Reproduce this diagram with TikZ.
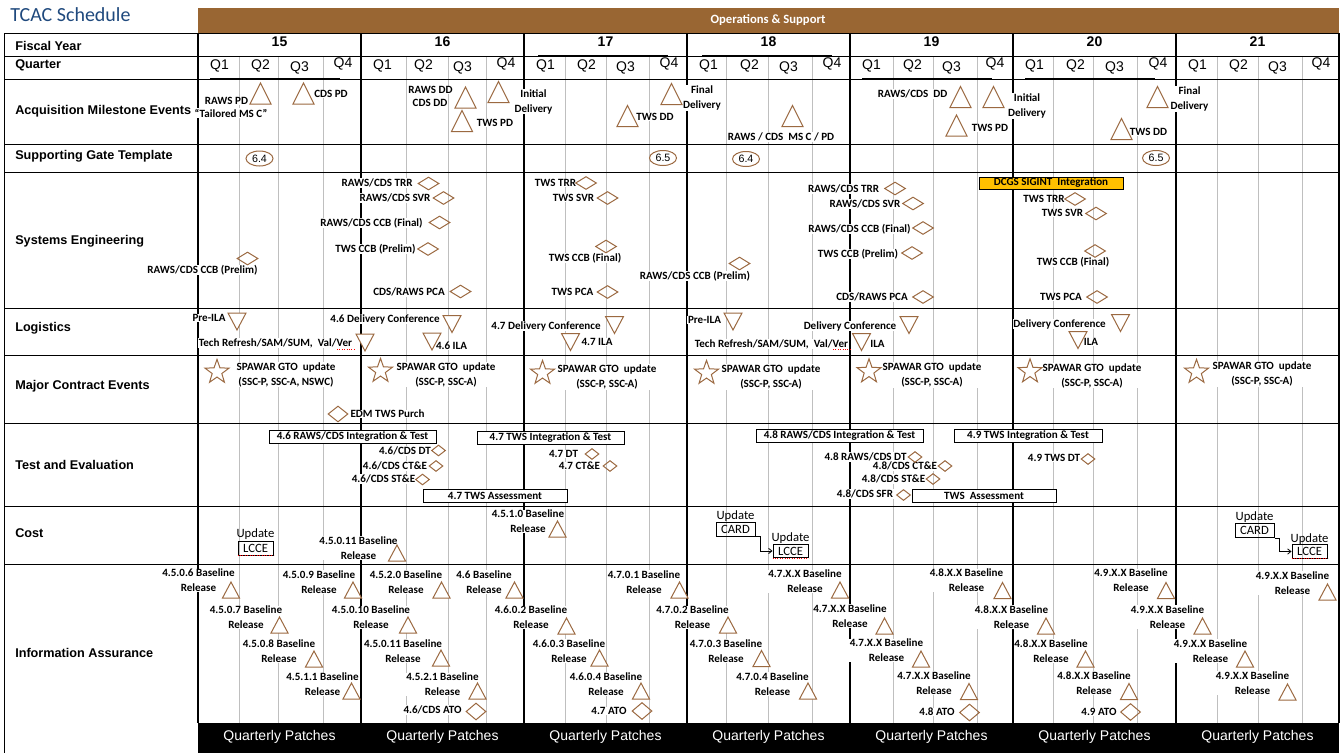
\documentclass[tikz,border=0pt]{standalone}
\usepackage{fontspec}
\setmainfont{Carlito}
\newfontfamily\arialfont{Liberation Sans}
\usepackage{xcolor}
\usetikzlibrary{positioning, arrows.meta, shapes.geometric}

\definecolor{opsbrown}{HTML}{996633}
\definecolor{msbrown}{HTML}{9B6941}
\definecolor{gridgray}{HTML}{BFBFBF}
\definecolor{titleblue}{HTML}{1F497D}
\definecolor{dcgsgold}{HTML}{FFC000}

\tikzset{
  lbl/.style={font=\bfseries\fontsize{8.3}{11.25}\selectfont, fill=white, inner sep=0.4pt, align=center},
  rowlbl/.style={font=\arialfont\bfseries\fontsize{9.5}{11}\selectfont, anchor=west, inner sep=0pt},
  yrlbl/.style={font=\arialfont\bfseries\fontsize{10.5}{12}\selectfont, inner sep=0pt},
  qlbl/.style={font=\arialfont\fontsize{10.5}{12}\selectfont, inner sep=0pt},
  patch/.style={font=\arialfont\fontsize{10.5}{12}\selectfont, text=white, inner sep=0pt},
  msdiam/.style={diamond, draw=msbrown, line width=0.75pt, inner sep=0pt, minimum width=15.75pt, minimum height=9.75pt},
  tediam/.style={msdiam, minimum width=10.5pt, minimum height=8.25pt},
  atodiam/.style={msdiam, minimum width=15pt, minimum height=12.75pt},
  msstar/.style={star, star points=5, star point ratio=2.5, draw=msbrown, line width=0.75pt, inner sep=0pt, minimum size=19pt},
  gate/.style={ellipse, draw=msbrown, line width=0.75pt, inner sep=0pt, minimum width=20.25pt, minimum height=11.25pt, font=\arialfont\fontsize{8}{9}\selectfont},
  tbox/.style={draw, line width=0.75pt, fill=white, inner sep=0pt, minimum height=9.75pt, font=\bfseries\fontsize{8.3}{10}\selectfont},
  costbox/.style={draw, line width=0.75pt, inner sep=0pt, minimum height=10pt, font=\fontsize{9.5}{10}\selectfont},
  upd/.style={font=\fontsize{9.5}{10}\selectfont, inner sep=0pt},
  spell/.style={red, densely dotted, line width=0.8pt},
  pics/acqtri/.style={code={\draw[msbrown, fill=white, line width=0.75pt] (-10.5,10.5) -- (0,-10.5) -- (10.5,10.5) -- cycle;}},
  pics/iatri/.style={code={\draw[msbrown, fill=white, line width=0.75pt] (-8.5,8) -- (0,-8) -- (8.5,8) -- cycle;}},
  pics/logtri/.style={code={\draw[msbrown, fill=white, line width=0.75pt] (-9,-8.5) -- (9,-8.5) -- (0,8.5) -- cycle;}}
}

\begin{document}
\begin{tikzpicture}[x=0.75pt, y=-0.75pt]
  \useasboundingbox (0,0) rectangle (1344,753);
  \fill[opsbrown] (198,8) rectangle (1339,33);
  \node[font=\fontsize{15}{18}\selectfont, text=titleblue, anchor=west, inner sep=0pt] (title) at (10,15) {TCAC Schedule};
  \node[font=\bfseries\fontsize{9.5}{11}\selectfont, text=white] (ops) at (768,20) {Operations \& Support};

  \foreach \x in {239,278,323,406,448,486,565,606,649,726,768,812,893,933,977,1053,1093,1137,1217,1258,1302}
    \draw[gridgray, line width=0.75pt] (\x,56) -- (\x,723);
  \foreach \y in {33,56,79,144,172,308,355,423,506,564}
    \draw[line width=0.75pt] (4,\y) -- (1339,\y);
  \foreach \x in {198,361,524,687,850,1013,1176}
    \draw[line width=2pt] (\x,33) -- (\x,723);
  \draw[line width=0.75pt] (4,33) -- (4,753);
  \draw[line width=1pt] (1339,33) -- (1339,723);
  \foreach \a/\b/\y in {210/340/79, 538/668/56, 702/832/56, 862/992/79, 1025/1155/79}
    \draw[line width=1.6pt] (\a,\y) -- (\b,\y);
  \fill[black] (198,723) rectangle (1339,753);

  \foreach \t [count=\k from 0] in {15,...,21} {
    \pgfmathsetmacro\xs{198+163*\k}
    \node[yrlbl] (fy\t) at (\xs+81.5,42) {\t};
    \node[qlbl] (q\t-1) at (\xs+21.5,66) {Q1};
    \node[qlbl] (q\t-2) at (\xs+62.5,66) {Q2};
    \node[qlbl] (q\t-3) at (\xs+101.5,68) {Q3};
    \node[qlbl] (q\t-4) at (\xs+145,64) {Q4};
    \node[patch] (qp\t) at (\xs+81.5,737) {Quarterly Patches};
  }

  \foreach \y/\t [count=\i] in {46/{Fiscal Year}, 65/Quarter, 111/{Acquisition Milestone Events}, 156/{Supporting Gate Template}, 241/{Systems Engineering}, 328/Logistics, 386/{Major Contract Events}, 465/{Test and Evaluation}, 533/Cost, 653/{Information Assurance}}
    \node[rowlbl] (row\i) at (15,\y) {\t};

  \foreach \x/\y/\t [count=\i] in {226.5/101/{RAWS PD}, 231/113/{“Tailored MS C”}, 331/94/{CDS PD}, 430.5/90/{RAWS DD}, 430/103/{CDS DD}, 495/123/{TWS PD}, 533.5/101.5/{Initial\\Delivery}, 655/117/{TWS DD}, 702/98/{Final\\Delivery}, 781/137/{RAWS / CDS \ MS C / PD}, 912.5/94/{RAWS/CDS \ DD}, 990/128/{TWS PD}, 1027/106/{Initial\\Delivery}, 1189.5/99/{Final\\Delivery}, 1148.5/132/{TWS DD}}
    \node[lbl] (acq\i) at (\x,\y) {\t};
  \foreach \x/\y [count=\i] in {260.5/93.5, 303.5/93.5, 465.5/97.5, 462/121, 498.5/92, 627.5/116, 671.5/94, 792.5/116, 960.5/97, 993.5/97, 956.5/125.5, 1157.5/97, 1121.5/129}
    \pic (acqm\i) at (\x,\y) {acqtri};

  \foreach \x/\y/\t [count=\i] in {259.5/158.5/6.4, 663/158/6.5, 746/159/6.4, 1156/158/6.5}
    \node[gate] (gt\i) at (\x,\y) {\t};

  \foreach \x/\y/\t [count=\i] in {377/183/{RAWS/CDS TRR}, 395/198/{RAWS/CDS SVR}, 371.5/223/{RAWS/CDS CCB (Final)}, 375.5/249/{TWS CCB (Prelim)}, 202.5/270/{RAWS/CDS CCB (Prelim)}, 409/292/{CDS/RAWS PCA}, 555.5/183/{TWS TRR}, 573.5/198/{TWS SVR}, 585/258/{TWS CCB (Final)}, 695/276/{RAWS/CDS CCB (Prelim)}, 572.5/292/{TWS PCA}, 843.5/189/{RAWS/CDS TRR}, 865/204/{RAWS/CDS SVR}, 859.5/229/{RAWS/CDS CCB (Final)}, 858/254/{TWS CCB (Prelim)}, 872/297/{CDS/RAWS PCA}, 1044/199/{TWS TRR}, 1062.5/213/{TWS SVR}, 1073/262/{TWS CCB (Final)}, 1061/297/{TWS PCA}}
    \node[lbl] (se\i) at (\x,\y) {\t};
  \foreach \x/\y [count=\i] in {428.5/183.5, 443.5/198, 439.5/222.5, 428/249, 247.5/258.5, 460.5/291.5, 586/183, 607.5/198, 606/246.5, 739.5/263.5, 607.5/292, 895/188.5, 913/203.5, 923/228, 912/253, 923/297, 1075/199, 1096/213.5, 1095/251, 1097/297}
    \node[msdiam] (sed\i) at (\x,\y) {};
  \node[draw, fill=dcgsgold, line width=0.75pt, minimum width=108pt, minimum height=9pt, inner sep=0pt, font=\bfseries\fontsize{8.3}{10}\selectfont] (dcgs) at (1051,183) {DCGS SIGINT \ Integration};

  \foreach \x/\y/\t [count=\i] in {209/318/Pre-ILA, 385/319/{4.6 Delivery Conference}, 275.5/343/{Tech Refresh/SAM/SUM, \ Val/Ver}, 451.5/346/{4.6 ILA}, 546/326/{4.7 Delivery Conference}, 597/342/{4.7 ILA}, 704.5/320/Pre-ILA, 771.5/344/{Tech Refresh/SAM/SUM, \ Val/Ver}, 877.5/344/ILA, 850/326/{Delivery Conference}, 1059.5/324/{Delivery Conference}, 1091/342/ILA}
    \node[lbl] (log\i) at (\x,\y) {\t};
  \foreach \x/\y [count=\i] in {237/321.5, 452/324, 365/342.5, 432/341.5, 614.5/325, 570.5/342, 733/321.5, 861.5/342, 909/325, 1120.5/323, 1078/340}
    \pic (logm\i) at (\x,\y) {logtri};
  \draw[spell] (337,349.5) -- (355,349.5);
  \draw[spell] (833,349.5) -- (850,349.5);

  \foreach \x/\y/\t [count=\i] in {286/374.5/{(SSC-P, SSC-A, NSWC)}, 446/374.5/{(SSC-P, SSC-A)}, 607/377/{(SSC-P, SSC-A)}, 771/377/{(SSC-P, SSC-A)}, 932/375/{(SSC-P, SSC-A)}, 1092/375.5/{(SSC-P, SSC-A)}, 1262/374/{(SSC-P, SSC-A)}}
    \node[lbl] (gto\i) at (\x,\y) {SPAWAR GTO \ update\\\t};
  \foreach \x/\y [count=\i] in {217/372, 380.5/371, 542.5/373, 706.5/373, 869/371.5, 1030/371.5, 1196.5/372}
    \node[msstar] (star\i) at (\x,\y) {};
  \node[lbl] (edm) at (387.5,414) {EDM TWS Purch};
  \node[msdiam, minimum width=15pt, minimum height=12pt] (edmd) at (338,414) {};

  \foreach \x/\y/\t [count=\i] in {405/451/{4.6/CDS DT}, 395/466/{4.6/CDS CT\&E}, 383.5/479/{4.6/CDS ST\&E}, 563.5/454/{4.7 DT}, 579.5/466/{4.7 CT\&E}, 865.5/457/{4.8 RAWS/CDS DT}, 905/466/{4.8/CDS CT\&E}, 893.5/479/{4.8/CDS ST\&E}, 865/494/{4.8/CDS SFR}, 1054/458/{4.9 TWS DT}}
    \node[lbl] (te\i) at (\x,\y) {\t};
  \foreach \x/\y [count=\i] in {438.5/450.5, 436/466, 422.5/479.5, 592/454, 610/466, 915/457, 945/466, 933/479, 903.5/495, 1088/459}
    \node[tediam] (ted\i) at (\x,\y) {};
  \node[tbox, minimum width=125.25pt] (tb1) at (352.5,437) {4.6 RAWS/CDS Integration \& Test};
  \node[tbox, minimum width=110.25pt] (tb2) at (550.5,437.5) {4.7 TWS Integration \& Test};
  \node[tbox, minimum width=125.25pt] (tb3) at (839.5,436) {4.8 RAWS/CDS Integration \& Test};
  \node[tbox, minimum width=111pt] (tb4) at (1028,436) {4.9 TWS Integration \& Test};
  \node[tbox, minimum width=108pt] (tb5) at (495,495.5) {4.7 TWS Assessment};
  \node[tbox, minimum width=108pt] (tb6) at (984,495.5) {TWS \ Assessment};

  \node[lbl] (cb1) at (358.5,548) {4.5.0.11 Baseline\\Release};
  \node[lbl] (cb2) at (528,521.5) {4.5.1.0 Baseline\\Release};
  \pic (cbm1) at (397,553) {iatri};
  \pic (cbm2) at (557.5,529) {iatri};
  \node[costbox, minimum width=26.25pt] (lcceA) at (255.5,548.5) {LCCE};
  \node[upd, above=1pt of lcceA] (updA) {Update};
  \node[costbox, minimum width=29.25pt, minimum height=10.5pt] (cardA) at (735.5,529) {CARD};
  \node[upd, above=0pt of cardA] (updB) {Update};
  \node[costbox, minimum width=26.25pt] (lcceB) at (790.5,551) {LCCE};
  \node[upd, above=0pt of lcceB] (updC) {Update};
  \node[costbox, minimum width=29.25pt, minimum height=10.5pt] (cardB) at (1254.5,530.5) {CARD};
  \node[upd, above=0pt of cardB] (updD) {Update};
  \node[costbox, minimum width=26.25pt] (lcceC) at (1309.5,551.5) {LCCE};
  \node[upd, above=0pt of lcceC] (updE) {Update};
  \draw[-{Straight Barb[length=2.5pt, width=4pt]}, line width=0.6pt] (cardA.south east) -- ++(5,0) |- (lcceB.west);
  \draw[-{Straight Barb[length=2.5pt, width=4pt]}, line width=0.6pt] (cardB.south east) -- ++(5,0) |- (lcceC.west);
  \foreach \n in {lcceA,lcceB,lcceC}
    \draw[spell] (\n.south west) -- (\n.south east);

  \foreach \x/\y/\tx/\ty/\v [count=\i] in {198.5/580.5/231/590/4.5.0.6, 246/617.5/279.5/625/4.5.0.7, 279/651/314/659/4.5.0.8, 322.5/684.5/351.5/691/4.5.1.1, 319/582/353/590/4.5.0.9, 371/617.5/408/625/4.5.0.10, 403/651/441/658/4.5.0.11, 406/582/441.5/590/4.5.2.0, 442.5/684.5/477.5/691/4.5.2.1, 484/582/514.5/590/4.6, 531/617.5/566.5/626/4.6.0.2, 569/651/599.5/658/4.6.0.3, 606/684/641/691/4.6.0.4, 644/582/679.5/590/4.7.0.1, 692.5/617.5/728/625/4.7.0.2, 726/651/761.5/658.5/4.7.0.3, 772.5/684/808/691/4.7.0.4, 805/581.5/840/590/4.7.X.X, 850/616/884.5/626/4.7.X.X, 886.5/650.5/921/659/4.7.X.X, 934/683/969/691.5/4.7.X.X, 966.5/580.5/1002.5/590.5/4.8.X.X, 1011.5/617/1046/626/4.8.X.X, 1051/651/1085.5/659/4.8.X.X, 1094/683/1129/691.5/4.8.X.X, 1131/580.5/1166/590.5/4.9.X.X, 1167.5/617/1202.5/626/4.9.X.X, 1210.5/651/1245/659/4.9.X.X, 1252.5/683/1287.5/692/4.9.X.X, 1292.5/583/1327.5/592/4.9.X.X}
    \node[lbl] (ia\i) at (\x,\y) {\v\ Baseline\\Release};
  \foreach \x/\y/\tx/\ty/\v [count=\i] in {198.5/580.5/231/590/4.5.0.6, 246/617.5/279.5/625/4.5.0.7, 279/651/314/659/4.5.0.8, 322.5/684.5/351.5/691/4.5.1.1, 319/582/353/590/4.5.0.9, 371/617.5/408/625/4.5.0.10, 403/651/441/658/4.5.0.11, 406/582/441.5/590/4.5.2.0, 442.5/684.5/477.5/691/4.5.2.1, 484/582/514.5/590/4.6, 531/617.5/566.5/626/4.6.0.2, 569/651/599.5/658/4.6.0.3, 606/684/641/691/4.6.0.4, 644/582/679.5/590/4.7.0.1, 692.5/617.5/728/625/4.7.0.2, 726/651/761.5/658.5/4.7.0.3, 772.5/684/808/691/4.7.0.4, 805/581.5/840/590/4.7.X.X, 850/616/884.5/626/4.7.X.X, 886.5/650.5/921/659/4.7.X.X, 934/683/969/691.5/4.7.X.X, 966.5/580.5/1002.5/590.5/4.8.X.X, 1011.5/617/1046/626/4.8.X.X, 1051/651/1085.5/659/4.8.X.X, 1094/683/1129/691.5/4.8.X.X, 1131/580.5/1166/590.5/4.9.X.X, 1167.5/617/1202.5/626/4.9.X.X, 1210.5/651/1245/659/4.9.X.X, 1252.5/683/1287.5/692/4.9.X.X, 1292.5/583/1327.5/592/4.9.X.X}
    \pic (iam\i) at (\tx,\ty) {iatri};
  \foreach \x/\y/\tx/\ty/\t [count=\i] in {432.5/710/476/711.5/{4.6/CDS ATO}, 609/711/642/711/{4.7 ATO}, 937/712/969.5/712.5/{4.8 ATO}, 1099/712/1130.5/712/{4.9 ATO}} {
    \node[lbl] (ato\i) at (\x,\y) {\t};
    \node[atodiam] (atod\i) at (\tx,\ty) {};
  }
\end{tikzpicture}
\end{document}
